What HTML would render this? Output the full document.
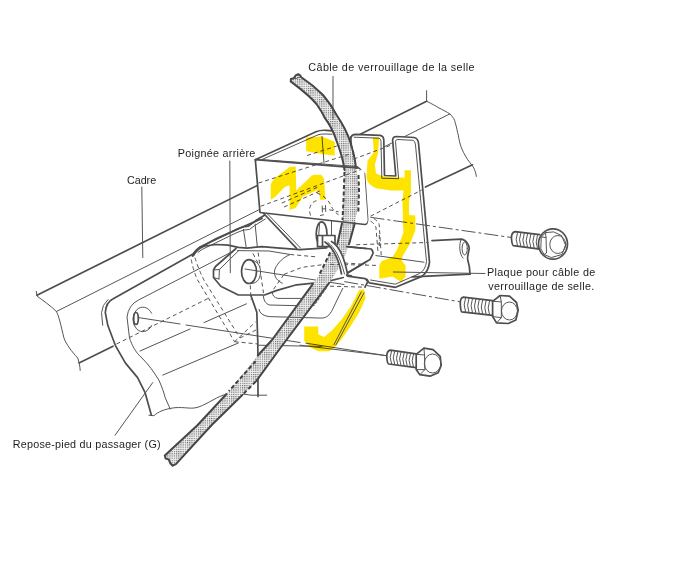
<!DOCTYPE html>
<html><head><meta charset="utf-8">
<style>
html,body{margin:0;padding:0;background:#fff;}
svg{display:block;}
text{font-family:"Liberation Sans",sans-serif;font-size:10px;fill:#1e1e1e;}
.k{fill:none;stroke:#4d4d4d;stroke-width:1.7;stroke-linejoin:round;stroke-linecap:round;}
.t{fill:none;stroke:#555;stroke-width:1;stroke-linecap:round;stroke-linejoin:round;}
.d{fill:none;stroke:#555;stroke-width:1;stroke-dasharray:4 3;}
.dd{fill:none;stroke:#555;stroke-width:1;stroke-dasharray:14 3 3 3;}
.w{fill:#fff;stroke:none;}
.c{fill:none;stroke:#454545;stroke-width:2;stroke-linejoin:round;stroke-linecap:round;}
.cd{fill:none;stroke:#404040;stroke-width:2;stroke-dasharray:4 2.5;}
.yf{fill:#ffe300;}
</style></head>
<body>
<svg width="686" height="567" viewBox="0 0 686 567">
<defs>
<pattern id="st" width="2.2" height="2.2" patternUnits="userSpaceOnUse">
<rect width="2.2" height="2.2" fill="#eeeeee"/><rect width="1.15" height="1.15" fill="#6e6e6e"/>
</pattern>
</defs>
<rect width="686" height="567" fill="#fff"/>

<!-- ================= FRAME TUBE ================= -->
<g id="frame">
<path class="k" d="M36.9,295.2 L426.6,101.2"/>
<path class="t" d="M426.6,90.6 L426.6,101.2 C432,104 436,106 438.1,107.5 C443,110 447,112 449.8,113.9 C453,117 455,120 455.1,122.4 C457,128 457,131 458.3,135.1 C459,140 460,144 461.4,147.8 C464,154 467,159 469.9,162.6 C471,164 472,165.5 473.1,166.8 C475,170 476,173 476.3,176.4"/>
<path class="t" d="M56.4,311.5 L449.8,113.9"/>
<path class="k" d="M79,362.9 L113,346.2"/>
<path class="k" d="M425.4,187 L472.5,164.8"/>
<path class="t" d="M36.3,291.4 L37,296 C42,300 50,305 56.4,311.5 C59,316 61,326 63.9,337.8 C66,344 72,352 77.7,357.9 C79,362 80,366 80.2,370.4"/>
</g>

<!-- ================= FOOTREST PLATE ================= -->
<g id="plate">
<path class="w" d="M262,218 L200,247 Q195,251 193,254 L112.8,298.9 Q106,302 105.3,312.7 L107.8,325.3 L115.3,345.3 L125.3,362.9 L137.6,377.6 L145.1,392.7 L151.4,415.2 L153.9,415.7 C158,412 164,409 175,407.7 C185,407 190,409 196,407.7 C204,406 215,398 223,395.2 C232,393 244,394 251,395.2 L266.7,395.2 L266,230 Z"/>
<path class="k" d="M262,218.5 L240,228 L200,247 Q195,251 193,254 L112.8,298.9 Q106,302 105.3,312.7 L107.8,325.3 L115.3,345.3 L125.3,362.9 L137.6,377.6 L145.1,392.7 L151.4,415.2"/>
<path class="t" d="M148.9,415.2 L153.9,415.7 C158,412 164,409 175,407.7 C185,407 190,409 196,407.7 C204,406 215,398 223,395.2 C232,393 244,394 251,395.2 L266.7,395.2"/>
<path class="t" d="M108,299.5 Q102,305 101.5,312.7 L102.7,325.3"/>
<path class="t" d="M235.3,250.1 L138.5,300 Q128.5,305 127,317 L129.5,338 C132,345 135,352 142,358 C148,364 154,372 158.9,380.1 C162,387 164,393 165.2,397.7 L170.2,409"/>
<path class="t" d="M140,351 L190,329 M204,322.6 L246.5,303.8"/>
<path class="t" d="M162.7,375.1 L238.3,343"/>
<path class="t" stroke-width="1.4" d="M151.6,313.2 A10,12.3 0 1 0 151.6,325.6"/>
<ellipse class="k" stroke-width="1.5" cx="136" cy="318.5" rx="2.3" ry="6"/>
<path class="t" d="M139.1,317.7 L180,324 M186,325 L300,342.5 M306,343.2 L386.5,355.7"/>
<path class="d" d="M116.5,344 L208,298.5"/>
<path class="d" d="M191.3,259.6 Q193,270 197.6,280 L234.6,341.7 M195,257.7 Q198,268 203.9,280 L240,338"/>
<path class="k" d="M250.6,294.8 L256.8,312.1 L257.8,342.7 L258,396.4"/>
<path class="d" d="M234.6,341.7 L258,344"/>
<path class="d" d="M234.6,341.7 L255.5,322 M240,338 L256,330"/>
<path class="t" d="M258,345.2 L322,346.4"/>
</g>

<!-- ================= HANDLE ================= -->
<g id="handle">
<path class="k" d="M192.5,256 Q196,249 201.9,246.6 L216.4,238.6 L235.4,229.9 L242.7,227 L248.5,226.2 L252.2,223.3 L255.8,220.6 L264.5,215.3"/>
<path class="t" d="M198,252.5 Q201,249.5 205,248 L236,233 L243,230.2 L249.6,229.4 L254.3,225.8 L265.3,219"/>
<path class="t" d="M243.4,229.2 L246.3,248.1 M255.1,224.1 L257.3,246.6"/>
<path class="k" d="M263.7,213.5 L296.6,248.3"/>
<path class="t" d="M267.5,214 L300.5,248"/>
<path class="w" d="M236,248 L267.5,246.9 L300,249.6 L326.8,247.8 L346.6,246.7 L371.1,249 L372.9,253.7 L370,259.5 L346.6,273.5 L343.3,277.5 L325.8,281.8 L296.6,284.8 L276.2,290.6 L264.5,295 L238.3,295 L220.8,286.2 L213.5,277.5 L213.5,270 L215.5,266.5 Z"/>
<path class="k" d="M193.5,255.5 Q198,248 205,246 L216.4,244.5 L228.1,245.2 L238.3,247.4 L247.1,248.1 L261.6,246.6 L280,248.1 L300,249.6 L326.8,247.8 M346.6,246.7 L371.1,249 Q373.5,251 372.9,253.7 L370,259.5 L346.6,273.5"/>
<path class="k" d="M236,248.5 L215.5,266.5 L213.5,270 L213.5,277.5 L220.8,286.2 L238.3,295 L264.5,295 L276.2,290.6 L296.6,284.8 L325.8,281.8 L343.3,277.5"/>
<path class="t" d="M238.8,250.5 L219.4,269.5 L219,279 M213.5,270 L219.4,269.5 M213.5,277.5 L219,279"/>
<path class="t" stroke-width="1.3" d="M237.5,250.6 L269,251 L290.2,254.5 C284,257 278,262 275,269 C273.5,274 275,280 282.3,283.2"/>
<ellipse class="k" stroke-width="2" cx="249" cy="271.6" rx="7.5" ry="11.9"/>
<path class="t" d="M250,260 C257,260 261,266 260.5,273 C260,280 256,284 250,283.5"/>
<path class="t" d="M245,269 L344,284.5"/>
<path class="d" d="M250.3,285.3 L251,300 M260.9,275.6 L263.5,293 M252.9,253.5 L260,266.8 M258.2,252.6 L260,266.8"/>
<path class="d" d="M290.2,254.5 L318,257 M284,274.4 L302,267.3 L326.8,264.2 M273.5,289.3 L284,274.4 M344.3,263 L380,265.3"/>
</g>

<!-- ================= BOX BRACKET ================= -->
<g id="box">
<path class="w" d="M255.3,159.7 L317.7,131.2 L352,131.3 L360,168.2 Q365,169 365.3,173.5 L368.5,220 Q368,224 365,224.5 L260,212.5 Z"/>
<path class="k" d="M255.3,159.7 L316,131.8 Q320,130 326,130.3 L334,130.8"/>
<path class="t" d="M261.6,159.7 L318,134.8 Q321,133.8 326,134 L332,134.3"/>
<path class="d" d="M307.1,155.5 L336.8,146"/>
<path class="t" d="M322,136.5 L324,163"/>
</g>

<!-- ================= CABLE ================= -->
<g id="cable">
<path fill="url(#st)" d="M290.6,80.6 L290.8,81.5 C298,87 309,95 316.5,104 C320,109 323,114 325,118.2 C330,125 334,133 336.6,141 C340,150 343,158 344.5,172 L343.5,200 L342,223 L337.3,244.3 L330.3,252.5 L318.7,275.8 L312.9,283.8 L272,340 L257.8,355.5 L226,394.5 L197.7,425 L164.8,455.4 L165.6,458.6 L168.7,459.4 L170.3,463.3 L172.7,465.7 L175.9,464.1 L211.7,425 L242.3,395 L256.4,380.9 L280,348.5 L329,283.1 L343,262 L349,244.3 L354.8,223.3 L358.5,205 L359,185 L356,168 C355,158 353,150 349.9,141 C347,132 342,123 336.6,115 C333,108 329,102 323,95 C315,87 307,81 301,77 L300.4,75.7 L298.2,74.2 L295.7,75.3 L293.8,78.2 L290.9,79 Z"/>
<path class="c" d="M290.8,81.5 C298,87 309,95 316.5,104 C320,109 323,114 325,118.2 C330,125 334,133 336.6,141 C340,150 343,158 344.5,170"/>
<path class="c" d="M290.8,81.5 L290.9,79 L293.8,78.2 L295.7,75.3 L298.2,74.2 L300.4,75.7 L301,77 C307,81 315,87 323,95 C329,102 333,108 336.6,115 C342,123 347,132 349.9,141 C353,150 355,158 356,168"/>
<path class="t" stroke="#444" stroke-width="1.3" d="M293.8,78.2 Q296.5,79.8 298.8,77.2"/>
<path class="cd" d="M344.5,172 L343.5,200 L342.5,220 M358.5,175 L359,190 L358.3,213"/>
<path class="c" d="M342,223.3 L337.3,244.3 M354.8,223.3 L349,244.3"/>
<path class="cd" d="M330.3,252.5 L318.7,275.8"/>
<path class="c" d="M312.9,283.8 L272,340 L257.8,355.5"/>
<path class="cd" d="M255.7,361.2 L228.8,391.2"/>
<path class="c" d="M226.5,394 L197.7,425 L164.8,455.4 L165.6,458.6 L168.7,459.4 L170.3,463.3 L172.7,465.7 L175.9,464.1 L211.7,425 L242.3,395"/>
<path class="cd" d="M243.7,393.6 L256.4,380.9"/>
<path class="c" d="M256.4,380.9 L280,348.5 L329,283.1"/>
<path fill="none" stroke="#5a5a5a" stroke-width="1.3" stroke-dasharray="3 1.2" d="M326.5,287.5 L313.5,306"/>
</g>

<!-- box front edges drawn over cable -->
<path class="k" d="M255.3,159.7 L360,168.2 Q365,169 365.3,173.5 L368.5,220 Q368,224 365,224.5 L260,212.5 Z"/>
<path class="t" d="M261.4,159.6 L358,166.6"/>
<path class="d" d="M258.5,183 L368.5,148.1"/>
<path class="d" d="M260.6,206.3 L365,168"/>
<path class="d" d="M281.7,203.1 L319.8,186.2 M284,207 L322,190"/>
<path class="d" stroke-width="1.2" d="M310.5,215.5 C308,208 311,201 318,200.5 M320,215.5 L325,214.5"/>
<path class="d" stroke-width="1.2" d="M316.8,192.9 C322,195 327,198 330.6,204.6 C332,208 334,212 338.6,214.8 M329.2,209.7 L338.6,211.9"/>
<path class="t" d="M322.2,206 L322.4,212 M325.5,205.5 L325.7,211.5 M322.3,209 L325.6,208.7"/>

<!-- tube -->
<path class="w" d="M425,241.4 L461.2,239.2 C468,240 470,248 467.8,260 L470,274.2 L413,275.3 Z"/>
<path class="k" d="M432,240.6 L461.2,239.2 C467,240 470,247 468.9,250 C468,255 467,258 467.8,260 C469,264 470,268 470,274.2"/>
<ellipse class="t" cx="464.7" cy="248.5" rx="2.6" ry="6.5"/>
<path class="t" d="M461.2,239.2 C459,244 459,254 463,258"/>
<!-- ================= SLOTTED PLATE ================= -->
<g id="slot">
<path class="w" d="M350.6,138 Q351,134.3 355,134.3 L380.2,135.4 Q383.4,136 383.4,139 L384.5,175.5 L395.8,176 L392.6,139.5 Q393,136.5 396,136.5 L414.1,137.5 Q418,138.5 418.3,142 L429.5,262.2 Q428,272 421.8,276.4 L395.6,287.3 L369.4,282.9 L366.1,279.7 L367,226 L368.5,220 L365.3,173.5 L358,166 Z"/>
<path class="k" d="M350.6,139 Q351,134.3 356,134.3 L380.2,135.4 Q383.6,136.2 383.8,140 L384.5,175.5 L395.8,176 L392.6,140 Q392.8,136.5 396.5,136.5 L414.1,137.5 Q418,138.5 418.5,143 L429.5,262.2 Q428.5,272 421.8,276.4 L395.6,287.3 L369.4,282.9 L366.1,279.7"/>
<path class="t" d="M354,137.2 L379,138.2 Q381,138.8 381,141.5 L381.8,178.2 L398.6,178.7 L395.5,141.5 Q395.5,139.5 398,139.5 L413,140.3 Q415.2,141 415.5,145 L426.5,261.5 Q425.5,270 419.5,273.5 L395.3,284.2 L370.5,280"/>
<path class="t" d="M375.9,255.6 L424,262.2"/>
<path class="d" d="M330,264.3 L377,265.4"/>
<path class="d" d="M356.2,244.7 L428.4,242.5"/>
<path class="d" d="M370.5,216.2 L421.8,190"/>
<path class="d" d="M373.7,218.4 Q379,222 379.2,225 L381.4,257.8 M370.5,221 Q376,225 376,228 L378.1,253.4"/>
</g>

<!-- handle tab over plate -->
<path class="k" d="M346.6,246.7 L371.1,249 Q373.5,251 372.9,253.7 L370,259.5 L346.6,273.5"/>
<path class="k" d="M350.6,137 L351.5,146.5"/>
<path class="k" d="M412.3,276.9 L470,274.2"/>
<!-- frame hidden lines beyond plate -->
<path class="d" d="M353.6,159.1 L393.3,144.3"/>

<!-- ================= TIE / CLAMP ================= -->
<g id="tie">
<path class="w" d="M316,222 L327,222 L328,245 L316,245 Z"/>
<ellipse class="k" stroke-width="2" cx="321.6" cy="233.9" rx="5.4" ry="12"/>
<path class="t" d="M319.5,224 Q317.5,234 320.5,244"/>
<path class="w" d="M317.5,235.5 L335,235.5 L335,246.7 L317.5,246.7 Z"/>
<path class="k" d="M317.5,235.5 L335,235.5 L335,246.7 L317.5,246.7 Z M322.5,235.5 L322.5,246.7"/>
<path class="w" d="M325,242 C332,246 338,254 341.5,274 L347.5,274 C344,255 338,244 331.5,241.5 Z"/>
<path class="k" d="M325,242 C332,247 338,255 341.5,274 M331.5,241.5 C338,245 344,256 347.5,274"/>
<path class="t" d="M328,242.5 C335,248 340,257 344.5,274"/>
<path class="t" d="M331.5,221 L331.5,235"/>
<path class="d" d="M379.3,235 L379.3,247.8"/>
<!-- bottom tab -->
<path class="k" d="M347.5,276.1 L365.3,278.7 Q368,279.5 367.9,281.3 L365,287.2"/>
<path class="d" d="M330,286.2 L365,287.2"/>
<path class="k" d="M346.6,275.2 L351.3,275.8"/>
</g>

<!-- pocket lines near plate bottom -->
<path class="t" d="M272.1,291.9 Q272.5,297.5 277.9,298.4 L302.7,298.4 M263.3,296.2 Q264,303 269.2,305 L298.3,305.7 M259,309.4 Q260,315.5 269.2,316.6 L321.6,318.1 C328,318 331,313 333.3,307.9 C336,302 340,294 342.8,288.3"/>

<!-- ================= BOLTS ================= -->
<g id="bolts">
<!-- bolt1 -->
<path class="w" d="M515.2,231.7 L539.7,234.6 L539.7,249.2 L513.4,245.7 Q510,238 515.2,231.7 Z"/>
<path class="k" stroke-width="1.9" d="M539.7,234.6 L515.2,231.7 Q511,232.5 511.5,239 Q512,245 513.4,245.7 L539.7,249.2"/>
<path class="t" stroke="#505050" stroke-width="1.4" d="M517.5,232.6 q-2.8,6.7 0,13.3 M520.8,233.0 q-2.8,6.7 0,13.4 M524.2,233.4 q-2.8,6.8 0,13.5 M527.5,233.8 q-2.8,6.8 0,13.6 M530.8,234.2 q-2.8,6.9 0,13.7 M534.2,234.6 q-2.8,6.9 0,13.8 M537.5,235.0 q-2.8,7.0 0,13.9"/>
<ellipse class="k" stroke-width="1.9" fill="#fff" cx="553" cy="244" rx="14.5" ry="15.2"/>
<path class="t" stroke-width="1.2" d="M541.5,237 L545.5,232.6 L553.6,231.9 L561.5,235.5 L565.5,245 L562,254.5 L551.3,257.5 L544,254.5 L541,249 Z"/>
<path class="t" stroke-width="1.2" d="M541.5,237 L546,237.5 L546.5,253 L544,254.5 M545.5,232.6 L546,237.5"/>
<ellipse class="t" stroke-width="1.2" cx="557.8" cy="244.5" rx="8" ry="9"/>
<!-- bolt2 -->
<path class="w" d="M463.4,297.2 L492.6,300.7 L492.6,315.3 L461.7,311.8 Q458,304 463.4,297.2 Z"/>
<path class="k" stroke-width="1.9" d="M492.6,300.7 L463.4,297.2 Q460,298 460.3,304 Q460.6,311 461.7,311.8 L492.6,315.3"/>
<path class="t" stroke="#505050" stroke-width="1.4" d="M465.5,298.0 q-2.8,6.9 0,13.8 M468.9,298.4 q-2.8,6.9 0,13.9 M472.4,298.8 q-2.8,7.0 0,13.9 M475.8,299.2 q-2.8,7.0 0,14.0 M479.2,299.6 q-2.8,7.0 0,14.0 M482.6,300.0 q-2.8,7.0 0,14.1 M486.1,300.4 q-2.8,7.1 0,14.1 M489.5,300.8 q-2.8,7.1 0,14.2"/>
<path class="k" stroke-width="1.9" fill="#fff" d="M492.6,301.3 L500.1,295.5 L509.5,296.1 L516.5,302.5 L518.2,310.1 L515.9,320 L508.3,323.5 L496.6,322.9 L492.6,316.5 Z"/>
<path class="t" stroke-width="1.2" d="M492.6,301.3 L501.3,301.9 L501.3,317.7 L496.6,322.9 M500.1,295.5 L501.3,301.9 M501.3,317.7 L492.6,316.5"/>
<ellipse class="t" stroke-width="1.2" cx="509.5" cy="311" rx="8" ry="9"/>
<!-- bolt3 -->
<path class="w" d="M390.2,350.2 L416.2,353.8 L416.2,367.6 L388.7,364 Q385,357 390.2,350.2 Z"/>
<path class="k" stroke-width="1.9" d="M416.2,353.8 L390.2,350.2 Q386.5,351 386.8,357.3 Q387.2,363.5 388.7,364 L416.2,367.6"/>
<path class="t" stroke="#505050" stroke-width="1.4" d="M391.5,351.0 q-2.8,6.4 0,12.8 M394.6,351.4 q-2.8,6.4 0,12.9 M397.8,351.9 q-2.8,6.5 0,13.0 M400.9,352.3 q-2.8,6.5 0,13.1 M404.1,352.7 q-2.8,6.6 0,13.1 M407.2,353.1 q-2.8,6.6 0,13.2 M410.4,353.6 q-2.8,6.7 0,13.3 M413.5,354.0 q-2.8,6.7 0,13.4"/>
<path class="k" stroke-width="1.9" fill="#fff" d="M416.2,354.3 L423.9,348.2 L433.1,349.7 L440.2,356.3 L441.2,365.5 L438.2,372.7 L430,376.2 L419.8,374.7 L416.2,369.6 Z"/>
<path class="t" stroke-width="1.2" d="M416.2,354.3 L424.5,355 L424.9,369.6 L419.8,374.7 M423.9,348.2 L424.5,355 M424.9,369.6 L416.2,369.6"/>
<ellipse class="t" stroke-width="1.2" cx="432.6" cy="363.5" rx="8.3" ry="9.5"/>
</g>

<!-- bolt axis lines -->
<path class="dd" d="M370.5,217.3 L512,237.6"/>
<path class="dd" d="M344.3,281.6 L461,302"/>
<path class="t" d="M300,345.2 L386,355.6"/>

<!-- ================= YELLOW ================= -->
<g style="mix-blend-mode:multiply">
<path class="yf" d="M306.1,137.5 L322,136.5 L334.7,141.7 L334.7,155.5 L325.1,154.4 L306.1,151.3 Z"/>
<path class="yf" d="M270.7,184.5 Q273,179 277.3,176.3 L289.6,167.1 L295.7,166.6 L296.2,190.6 L310,177.3 Q312,175 314,174.8 L321.2,174.8 L324.2,178.9 L325.3,199.8 L320.2,199.8 L319.1,192.7 Q318,190.5 316.1,190.6 L302.8,196.7 L295.7,208 L289.6,210 L289.6,185.5 Q285,186 282.4,189.6 L275.3,196.7 L270.7,199.8 Z"/>
<path class="yf" d="M372.8,137.5 L379.2,137.5 L378.1,152.3 L374.9,165 L376,173.5 L384.4,176.7 L404.6,177.7 L404.6,170.3 L410.9,170.3 L410.9,192.5 L409,201 L409,215 L415.3,215.5 L415.4,230.6 L410,243.7 L403.4,254.7 L401.2,260.1 L405.6,265.6 L405.6,276.5 L401.2,282 L392.5,276.5 L379.3,278.7 L379.3,265.6 L381.5,261.2 L392.5,256.9 L396.8,250.3 L403.4,232.8 L403,220 L402.4,201 L403.5,190.4 L390.8,190.4 L376,188.3 Q367,184 366.5,177.7 L367.5,160.8 L373.9,152.3 Z"/>
<path class="yf" d="M304.2,326.6 L318.3,326.6 L318.3,334.3 L323.9,337.1 L331.7,330.8 L341.6,319.5 L351.4,305.4 L359.2,289.9 L364.1,289.2 L365.5,298.3 L359.9,311 L351.4,325.1 L341.6,339.3 L334.5,347.7 L328.9,351.3 L319,351.3 L310.5,347.7 L304.2,340.7 Z"/>
</g>
<path class="t" stroke="#3a3a3a" d="M361.3,292 L333.8,344.9 M364.1,292.7 L335.9,344.9"/>

<!-- ================= LEADERS ================= -->
<path class="t" d="M333,76.5 L333,119"/>
<path class="t" d="M229.8,161 L230.3,272.7"/>
<path class="t" d="M141.8,187 L142.8,257.5"/>
<path class="t" d="M115,435.3 L152.7,382.6"/>
<path class="t" d="M393.4,272 L485,273.5"/>

<!-- ================= TEXT ================= -->
<text transform="translate(308.3,71.3) scale(1.08,1)" letter-spacing="0.37">Câble de verrouillage de la selle</text>
<text transform="translate(177.8,157) scale(1.08,1)" letter-spacing="0.25">Poignée arrière</text>
<text transform="translate(127,183.7) scale(1.08,1)" letter-spacing="-0.05">Cadre</text>
<text transform="translate(487,276) scale(1.08,1)" letter-spacing="0.31">Plaque pour câble de</text>
<text transform="translate(488.3,290.2) scale(1.08,1)" letter-spacing="0.31">verrouillage de selle.</text>
<text transform="translate(12.7,447.5) scale(1.08,1)" letter-spacing="0.21">Repose-pied du passager (G)</text>

</svg>
</body></html>
